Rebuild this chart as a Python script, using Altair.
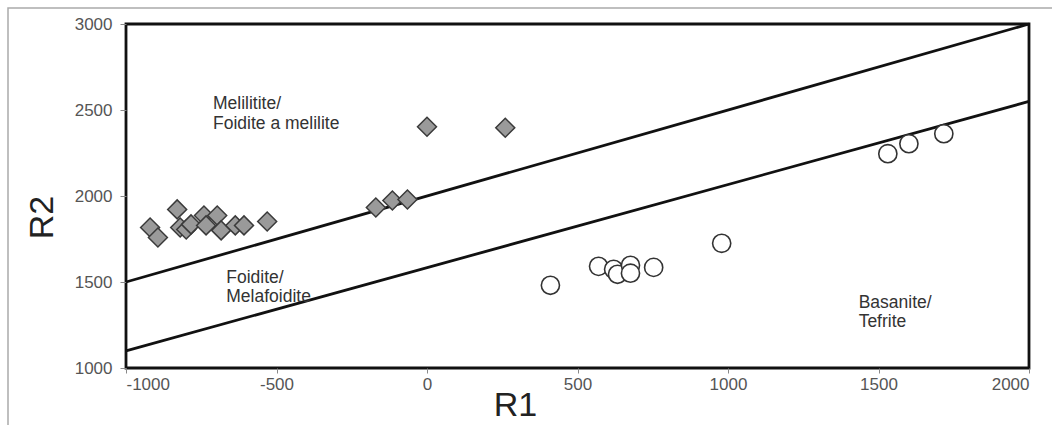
import altair as alt
import pandas as pd

# Melilitite / Foidite a melilite samples (grey diamonds)
mel_r1 = [-920, -894, -830, -820, -800, -784, -741, -734, -697, -684, -637, -608, -531, -170, -115, -65, 0, 260]
mel_r2 = [1817, 1759, 1922, 1817, 1805, 1835, 1887, 1829, 1887, 1800, 1829, 1829, 1852, 1933, 1974, 1980, 2403, 2397]

# Basanite / Tefrite samples (open circles)
bas_r1 = [410, 570, 620, 633, 676, 676, 753, 979, 1531, 1601, 1717]
bas_r2 = [1481, 1591, 1574, 1545, 1597, 1551, 1585, 1725, 2246, 2304, 2362]

# Field boundaries
upper_r1 = [-1000, 2000]
upper_r2 = [1500, 3000]
lower_r1 = [-1000, 2000]
lower_r2 = [1100, 2550]

# Field labels
label_text = ["Melilitite/", "Foidite a melilite", "Foidite/", "Melafoidite", "Basanite/", "Tefrite"]
label_r1 = [-711, -711, -667, -667, 1434, 1434]
label_r2 = [2536, 2420, 1522, 1412, 1377, 1267]

x_ticks = [-1000, -500, 0, 500, 1000, 1500, 2000]
y_ticks = [1000, 1500, 2000, 2500, 3000]

FONT = "Liberation Sans"

xs = alt.Scale(domain=[-1000, 2000], nice=False, zero=False)
ys = alt.Scale(domain=[1000, 3000], nice=False, zero=False)

mel = pd.DataFrame({"R1": mel_r1, "R2": mel_r2})
bas = pd.DataFrame({"R1": bas_r1, "R2": bas_r2})
lines = pd.DataFrame({
    "R1": upper_r1 + lower_r1,
    "R2": upper_r2 + lower_r2,
    "line": ["upper", "upper", "lower", "lower"],
})
labels = pd.DataFrame({"R1": label_r1, "R2": label_r2, "text": label_text})

x_enc = alt.X("R1:Q", scale=xs, axis=alt.Axis(
    values=x_ticks, title="R1", grid=False, domain=False,
    labelExpr="'' + datum.value",
    labelFont=FONT, labelFontSize=17, labelColor="#555555",
    tickColor="#888888", tickSize=5, labelPadding=3,
    titleFont=FONT, titleFontSize=34, titleFontWeight="normal", titleColor="#222222",
    titleX=389, titleY=37, titleBaseline="middle", titleAlign="center", titleAnchor="start",
))
y_enc = alt.Y("R2:Q", scale=ys, axis=alt.Axis(
    values=y_ticks, title="R2", grid=False, domain=False,
    labelExpr="'' + datum.value",
    labelFont=FONT, labelFontSize=17, labelColor="#555555",
    tickColor="#888888", tickSize=6, labelPadding=8,
    titleFont=FONT, titleFontSize=34, titleFontWeight="normal", titleColor="#222222",
    titleX=-84, titleY=193, titleBaseline="middle", titleAlign="center", titleAnchor="start", titleAngle=-90,
))

frame = alt.Chart(pd.DataFrame({"a": [0]})).mark_rect(
    fill="transparent", stroke="#aaaaaa", strokeWidth=1.5
).encode(
    x=alt.value(-118), x2=alt.value(940), y=alt.value(-16), y2=alt.value(420)
)

line_layer = alt.Chart(lines).mark_line(color="#111111", strokeWidth=2.8).encode(
    x=x_enc, y=y_enc, detail="line:N"
)

mel_layer = alt.Chart(mel).mark_point(
    shape="diamond", filled=True, fill="#9a9a9a", stroke="#3a3a3a", strokeWidth=1.5,
    size=360, opacity=1
).encode(x="R1:Q", y="R2:Q")

bas_layer = alt.Chart(bas).mark_point(
    shape="circle", filled=True, fill="white", stroke="#333333", strokeWidth=1.6,
    size=330, opacity=1
).encode(x="R1:Q", y="R2:Q")

text_layer = alt.Chart(labels).mark_text(
    align="left", baseline="middle", font=FONT, fontSize=17.5, color="#333333"
).encode(x="R1:Q", y="R2:Q", text="text:N")

chart = alt.layer(frame, line_layer, mel_layer, bas_layer, text_layer).properties(
    width=903, height=344,
    autosize=alt.AutoSizeParams(type="none"),
    padding={"left": 126, "top": 24, "right": 23, "bottom": 57},
    background="white",
).configure_view(stroke="#111111", strokeWidth=2.8)

chart.save("out.html", embed_options={"renderer": "svg", "actions": False})
